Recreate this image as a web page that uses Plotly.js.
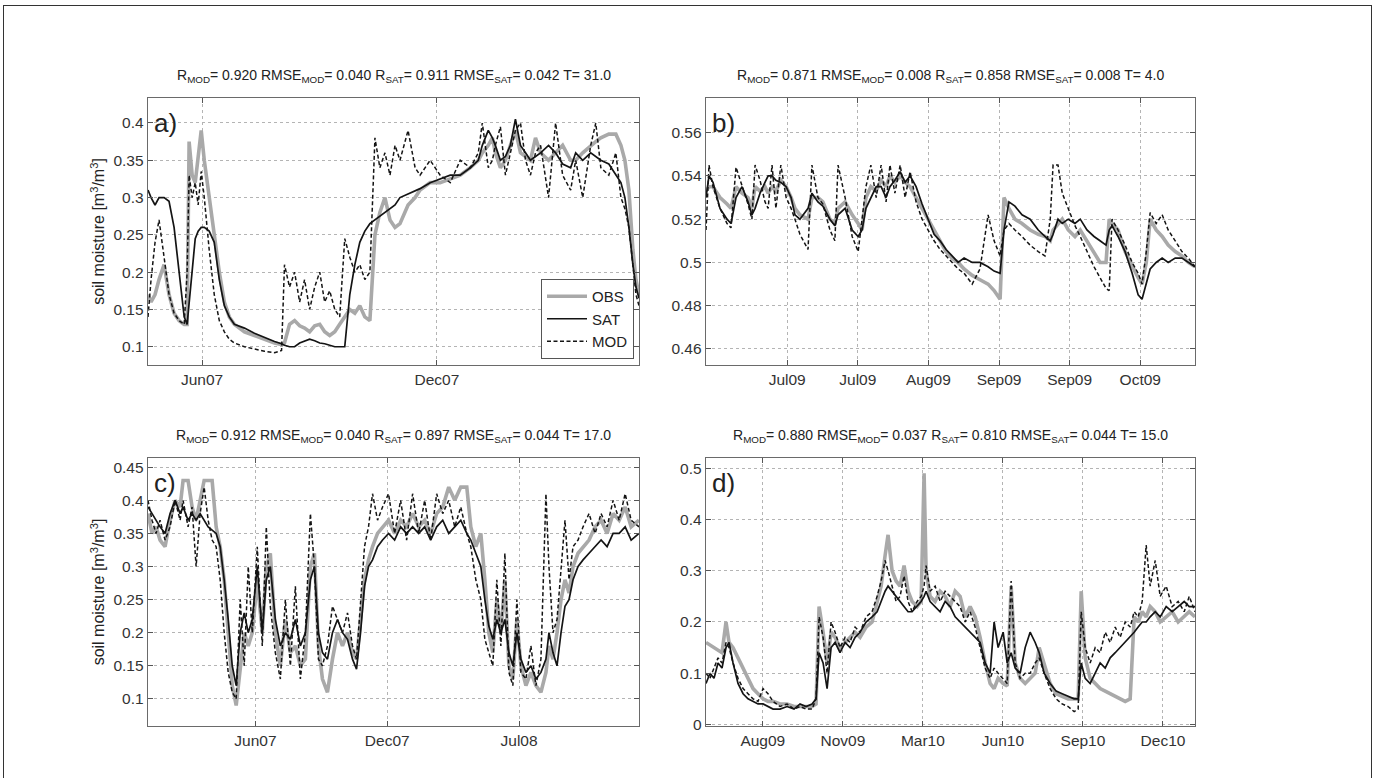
<!DOCTYPE html>
<html><head><meta charset="utf-8">
<script src="https://cdn.plot.ly/plotly-3.0.1.min.js"></script>
<style>
html,body{margin:0;padding:0;background:#fff;overflow:hidden}
#chart{position:absolute;left:0;top:0;width:1375px;height:778px}
#frame{position:absolute;left:3px;top:5px;width:1367px;height:800px;border:1.5px solid #333;pointer-events:none}
</style></head><body>
<div id="chart"></div><div id="frame"></div>
<script>
// ---------------- DATA ----------------
// Panel a: days since 2007-04-22
const startA = '2007-04-22';
const daysA = [0,2.6,6,9.4,13.7,17.9,22.2,26.5,30.8,33.3,35,37.6,40.2,42.7,45.3,47.9,52.1,56.4,60.7,65,69.2,73.5,82.1,90.6,99.1,107.7,113.7,116.2,120.5,124.8,129.1,133.3,137.6,141.9,146.2,150.4,154.7,159,163.2,167.5,171.8,176.1,180.3,184.6,188.9,193.2,197.4,201.7,206,210.3,214.5,221.4,227.4,231.6,240.2,248.7,257.3,265.8,274.4,281.2,284.6,289.7,293.2,295.7,300,304.3,308.5,312.8,317.1,321.4,325.6,329.9,334.2,341,347,353,359.8,364.1,370.1,376.9,381.2,385.5,392.3,398.3,402.6,406,409.4,412.8,415.4,418];
const obsA = [.17,.16,.17,.19,.21,.17,.145,.135,.13,.13,.375,.33,.32,.36,.39,.35,.30,.25,.20,.16,.14,.13,.12,.115,.11,.105,.103,.105,.13,.135,.128,.125,.12,.128,.13,.12,.115,.12,.13,.14,.15,.145,.155,.14,.135,.25,.28,.30,.27,.26,.265,.29,.30,.31,.32,.32,.325,.33,.34,.35,.36,.37,.38,.36,.34,.35,.37,.39,.36,.355,.35,.38,.36,.35,.36,.37,.35,.35,.36,.37,.375,.38,.385,.385,.37,.35,.31,.23,.19,.17];
const satA = [.31,.30,.29,.30,.30,.295,.26,.20,.14,.13,.16,.21,.245,.255,.26,.26,.255,.24,.19,.155,.14,.13,.125,.118,.112,.107,.104,.102,.10,.10,.105,.108,.11,.108,.105,.104,.102,.10,.10,.10,.17,.21,.24,.255,.265,.27,.275,.28,.285,.29,.30,.305,.31,.312,.32,.325,.33,.33,.34,.35,.37,.39,.38,.37,.35,.355,.37,.405,.37,.36,.35,.355,.36,.37,.36,.345,.34,.36,.35,.36,.355,.35,.345,.33,.32,.30,.26,.21,.18,.165];
const modA = [.14,.19,.24,.27,.22,.17,.145,.135,.13,.20,.33,.30,.32,.29,.335,.30,.23,.17,.135,.12,.11,.105,.10,.097,.094,.092,.095,.21,.18,.20,.16,.19,.15,.18,.20,.16,.175,.15,.14,.245,.22,.20,.21,.19,.20,.38,.34,.36,.33,.37,.35,.39,.34,.33,.35,.33,.32,.35,.34,.36,.40,.34,.35,.37,.395,.33,.36,.39,.40,.35,.33,.36,.37,.30,.40,.33,.31,.35,.30,.37,.40,.34,.33,.36,.30,.285,.26,.21,.17,.155];

// Panel b: days since 2009-06-13
const startB = '2009-06-13';
const daysB = [0,0.85,1.98,3.97,5.95,7.08,8.5,10.2,11.9,13,13.9,15.3,16.7,17.6,18.7,19.8,21.2,22.7,24.1,25.2,26.6,28.9,30,31.7,33.1,35.1,36.5,37.4,39.4,41.4,43.1,44.2,45.3,46.7,48.2,49.6,51,52.1,53.5,55,56.4,57.8,59.5,61.2,62.9,64.6,66.3,68,69.7,71.4,73.1,75.4,77.6,79.9,81.6,83.3,84.4,85.8,87.5,89.5,91.8,94.1,96,97.5,98.3,99.7,100.9,102.6,104.5,106,107.9,109.9,111.6,113.3,114.2,115,116.7,118.7,120.7,122.4,123.5,124.7,125.8,127.5,129.2,130.9,132.9,134.8,136.6,138.5];
const obsB = [.533,.535,.535,.530,.527,.525,.535,.532,.530,.525,.535,.533,.535,.532,.535,.533,.538,.535,.530,.525,.522,.520,.530,.530,.528,.520,.518,.525,.528,.522,.518,.515,.530,.535,.533,.538,.535,.540,.537,.540,.537,.535,.530,.525,.520,.515,.510,.505,.502,.500,.497,.494,.492,.490,.487,.483,.530,.525,.520,.518,.515,.513,.512,.510,.515,.518,.520,.515,.512,.515,.510,.505,.500,.500,.520,.518,.515,.505,.498,.493,.490,.500,.520,.515,.512,.508,.505,.503,.500,.498];
const satB = [.530,.540,.537,.525,.520,.518,.530,.535,.528,.522,.525,.532,.537,.540,.540,.538,.537,.535,.530,.522,.520,.525,.532,.528,.526,.520,.517,.522,.525,.515,.512,.515,.525,.530,.535,.535,.530,.535,.538,.542,.537,.540,.535,.527,.520,.513,.510,.506,.503,.500,.502,.500,.500,.498,.496,.495,.515,.528,.526,.522,.520,.515,.512,.510,.513,.520,.518,.520,.518,.520,.515,.512,.510,.508,.515,.517,.512,.505,.495,.485,.483,.490,.497,.500,.502,.500,.502,.502,.500,.498];
const modB = [.515,.545,.535,.525,.518,.516,.544,.535,.527,.520,.545,.538,.528,.525,.545,.525,.545,.530,.525,.520,.513,.506,.545,.530,.527,.515,.510,.545,.530,.512,.505,.520,.535,.545,.530,.545,.528,.545,.532,.545,.530,.542,.528,.520,.515,.510,.506,.503,.500,.497,.495,.490,.497,.522,.510,.503,.515,.518,.515,.512,.508,.505,.503,.520,.545,.545,.532,.525,.517,.512,.505,.498,.493,.488,.487,.520,.515,.508,.500,.495,.490,.505,.523,.518,.522,.515,.510,.505,.502,.498];

// Panel c: days since 2006-12-26
const startC = '2006-12-26';
const daysC = [0,6.1,12.2,18.3,25.9,33.5,41.1,48.7,53.2,60.8,66.9,73,79.1,85.2,91.3,97.3,103.4,109.5,115.6,121.7,127.8,133.8,139.9,146,152.1,158.2,165.8,173.4,179.5,185.6,193.2,200.8,208.4,216,223.6,231.2,238.8,246.4,252.5,258.6,264.7,272.3,279.9,287.5,295.1,302.7,310.3,316.4,322.5,328.5,334.6,340.7,348.3,355.9,365,374.2,383.3,392.4,401.5,410.7,419.8,428.9,438,447.2,456.3,465.4,474.6,483.7,489.8,497.4,505,511.1,517.1,523.2,529.3,535.4,541.5,547.6,553.6,559.7,565.8,573.4,581,588.6,596.2,603.8,608.4,614.5,620.6,626.7,632.7,638.8,644.9,652.5,660.1,669.2,678.4,687.5,696.6,705.7,714.9,724,733.1,745];
const obsC = [.38,.35,.36,.34,.33,.37,.40,.39,.43,.43,.39,.37,.40,.43,.43,.43,.36,.33,.28,.20,.12,.09,.14,.20,.18,.20,.28,.20,.30,.32,.20,.15,.22,.17,.18,.15,.16,.30,.32,.18,.13,.11,.16,.20,.18,.20,.17,.16,.22,.28,.31,.33,.35,.36,.37,.35,.37,.36,.38,.36,.37,.35,.38,.39,.42,.40,.42,.42,.36,.33,.35,.28,.20,.17,.25,.20,.28,.15,.13,.22,.15,.12,.14,.12,.11,.14,.18,.16,.20,.25,.28,.26,.30,.32,.33,.34,.36,.37,.35,.38,.37,.39,.36,.37];
const satC = [.39,.38,.37,.36,.35,.38,.40,.38,.39,.37,.38,.37,.38,.37,.36,.355,.35,.33,.28,.22,.15,.12,.20,.23,.20,.22,.30,.20,.28,.30,.22,.18,.20,.19,.22,.18,.20,.28,.30,.20,.17,.16,.20,.22,.20,.19,.16,.145,.20,.27,.30,.31,.33,.34,.35,.34,.36,.35,.36,.35,.36,.34,.36,.37,.35,.36,.37,.35,.34,.32,.30,.25,.21,.19,.22,.20,.22,.17,.15,.20,.16,.14,.15,.13,.14,.16,.20,.17,.15,.20,.24,.25,.28,.30,.31,.32,.33,.34,.33,.35,.35,.36,.34,.35];
const modC = [.40,.37,.35,.37,.34,.36,.40,.37,.40,.36,.39,.30,.38,.42,.37,.34,.33,.28,.20,.14,.11,.10,.25,.15,.30,.20,.33,.18,.36,.24,.17,.13,.25,.15,.27,.13,.20,.38,.30,.16,.15,.18,.24,.22,.20,.23,.18,.16,.25,.33,.36,.41,.37,.39,.41,.35,.40,.34,.41,.35,.40,.34,.41,.38,.40,.36,.39,.35,.33,.28,.25,.19,.17,.15,.28,.18,.32,.14,.12,.25,.14,.13,.18,.12,.16,.41,.30,.20,.22,.30,.37,.28,.33,.34,.36,.38,.35,.38,.36,.40,.37,.41,.37,.36];

// Panel d: days since 2009-06-05
const startD = '2009-06-05';
const daysD = [0,5,10,15,20,25,28.8,33.8,40,46.3,52.5,58.8,65,71.3,77.5,83.8,92.5,101.3,110,117.5,125,132.5,137.5,141.3,146.3,151.3,156.3,161.3,167.5,173.8,180,186.3,192.5,200,207.5,213.8,218.8,223.8,227.5,232.5,237.5,242.5,247.5,252.5,257.5,263.8,268.8,272.5,275,280,286.3,292.5,298.8,305,311.3,317.5,323.8,330,336.3,342.5,348.8,355,360,365,371.3,376.3,381.3,386.3,392.5,398.8,405,411.3,416.3,422.5,430,437.5,445,452.5,460,465,468.8,473.8,480,486.3,492.5,498.8,505,511.3,517.5,523.8,530,535,540,545,550,555,561.3,567.5,575,582.5,590,597.5,603.8,611];
const obsD = [.16,.155,.15,.145,.14,.20,.16,.15,.13,.11,.09,.07,.06,.05,.045,.045,.04,.04,.035,.035,.035,.035,.04,.23,.18,.12,.18,.17,.15,.16,.17,.18,.17,.19,.20,.24,.27,.33,.37,.30,.28,.27,.31,.26,.24,.23,.24,.49,.30,.25,.24,.26,.25,.23,.26,.25,.21,.23,.21,.17,.12,.08,.07,.09,.08,.075,.27,.12,.09,.08,.09,.10,.15,.12,.08,.06,.055,.05,.05,.05,.26,.13,.09,.08,.07,.065,.06,.055,.05,.045,.05,.21,.20,.22,.21,.23,.22,.20,.21,.22,.20,.21,.22,.21];
const satD = [.08,.10,.09,.12,.11,.15,.16,.12,.08,.06,.05,.045,.04,.04,.035,.03,.03,.035,.03,.04,.035,.04,.05,.14,.12,.07,.15,.16,.14,.16,.15,.17,.18,.20,.21,.22,.24,.26,.27,.26,.25,.24,.23,.22,.22,.23,.24,.25,.26,.24,.23,.22,.24,.23,.21,.20,.19,.18,.17,.16,.12,.10,.20,.15,.18,.12,.14,.11,.10,.15,.18,.16,.14,.10,.08,.065,.06,.055,.05,.05,.12,.09,.08,.10,.12,.11,.13,.14,.15,.16,.17,.18,.19,.20,.20,.21,.22,.21,.23,.22,.23,.24,.23,.23];
const modD = [.10,.09,.11,.13,.12,.16,.15,.12,.09,.07,.06,.05,.045,.07,.06,.045,.035,.04,.03,.035,.03,.03,.05,.21,.17,.10,.20,.18,.15,.17,.16,.19,.18,.21,.22,.25,.28,.32,.30,.27,.24,.25,.29,.24,.22,.24,.25,.27,.31,.26,.27,.24,.26,.25,.24,.23,.20,.22,.19,.15,.11,.09,.11,.10,.09,.08,.28,.12,.09,.10,.10,.12,.13,.10,.07,.05,.04,.035,.025,.03,.22,.15,.12,.15,.14,.18,.16,.19,.17,.20,.19,.22,.21,.24,.35,.27,.32,.25,.27,.23,.24,.22,.25,.22];

// Tick dates and labels
const ticksA = ['2007-06-07','2007-12-24'];
const labelsA = ['Jun07','Dec07'];
const ticksB = ['2009-07-06','2009-07-26','2009-08-15','2009-09-04','2009-09-24','2009-10-14'];
const labelsB = ['Jul09','Jul09','Aug09','Sep09','Sep09','Oct09'];
const ticksC = ['2007-06-07','2007-12-24','2008-07-11'];
const labelsC = ['Jun07','Dec07','Jul08'];
const ticksD = ['2009-08-15','2009-11-23','2010-03-03','2010-06-11','2010-09-19','2010-12-28'];
const labelsD = ['Aug09','Nov09','Mar10','Jun10','Sep10','Dec10'];

const yticksA = [0.1,0.15,0.2,0.25,0.3,0.35,0.4];
const yticksB = [0.46,0.48,0.5,0.52,0.54,0.56];
const yticksC = [0.1,0.15,0.2,0.25,0.3,0.35,0.4,0.45];
const yticksD = [0,0.1,0.2,0.3,0.4,0.5];
const yrangeA = [0.0755,0.4335];
const yrangeB = [0.4526,0.576];
const yrangeC = [0.059,0.464];
const yrangeD = [-0.003,0.52];

// Statistics in the titles
const rMod = [0.920,0.871,0.912,0.880];
const rmseMod = [0.040,0.008,0.040,0.037];
const rSat = [0.911,0.858,0.897,0.810];
const rmseSat = [0.042,0.008,0.044,0.044];
const tVal = [31.0,4.0,17.0,15.0];
const panelLabels = ['a)','b)','c)','d)'];

// ---------------- BUILD ----------------
const FONT = '"Liberation Sans", Arial, Helvetica, sans-serif';
const W = 1375, H = 778;
const colPx = [[148,639],[706,1195]];
const rowPx = [[98,365],[458,726]];

function toDates(start, days){
  const t0 = Date.parse(start + 'T00:00:00Z');
  return days.map(d => new Date(t0 + d*86400000).toISOString().slice(0,16).replace('T',' '));
}

const panels = [
  {start:startA, days:daysA, obs:obsA, sat:satA, mod:modA, tv:ticksA, tt:labelsA, yv:yticksA, yr:yrangeA, col:0, row:0, ytitle:true},
  {start:startB, days:daysB, obs:obsB, sat:satB, mod:modB, tv:ticksB, tt:labelsB, yv:yticksB, yr:yrangeB, col:1, row:0, ytitle:false},
  {start:startC, days:daysC, obs:obsC, sat:satC, mod:modC, tv:ticksC, tt:labelsC, yv:yticksC, yr:yrangeC, col:0, row:1, ytitle:true},
  {start:startD, days:daysD, obs:obsD, sat:satD, mod:modD, tv:ticksD, tt:labelsD, yv:yticksD, yr:yrangeD, col:1, row:1, ytitle:false}
];

const traces = [];
const layout = {
  width: W, height: H,
  margin: {l:0, r:0, t:0, b:0},
  paper_bgcolor: 'rgba(0,0,0,0)', plot_bgcolor: '#fff',
  showlegend: true,
  annotations: [],
  font: {family: FONT, color: '#222'}
};

panels.forEach((p, i) => {
  const n = i + 1;
  const xa = n === 1 ? 'x' : 'x' + n;
  const ya = n === 1 ? 'y' : 'y' + n;
  const xd = [colPx[p.col][0]/W, colPx[p.col][1]/W];
  const yd = [1 - rowPx[p.row][1]/H, 1 - rowPx[p.row][0]/H];
  const x = toDates(p.start, p.days);
  const common = {x: x, xaxis: xa, yaxis: ya, mode: 'lines', hoverinfo: 'skip'};
  traces.push(Object.assign({}, common, {y: p.obs, name: 'OBS', showlegend: i === 0,
    line: {color: '#a9a9a9', width: 3.6}}));
  traces.push(Object.assign({}, common, {y: p.sat, name: 'SAT', showlegend: i === 0,
    line: {color: '#141414', width: 1.7}}));
  traces.push(Object.assign({}, common, {y: p.mod, name: 'MOD', showlegend: i === 0,
    line: {color: '#141414', width: 1.5, dash: '4px,2.5px'}}));

  const axBase = {
    ticks: 'inside', ticklen: 5, tickwidth: 1, tickcolor: '#555',
    showline: true, linecolor: '#6a6a6a', linewidth: 1.3, mirror: 'ticks',
    showgrid: true, gridcolor: '#b4b4b4', gridwidth: 1, griddash: 'dot',
    zeroline: false, fixedrange: true,
    tickfont: {family: FONT, size: 15.5, color: '#333'}
  };
  layout['xaxis' + (n === 1 ? '' : n)] = Object.assign({}, axBase, {
    domain: xd, anchor: ya, type: 'date',
    range: [x[0], x[x.length - 1]],
    tickmode: 'array', tickvals: p.tv, ticktext: p.tt
  });
  const yax = Object.assign({}, axBase, {
    domain: yd, anchor: xa, range: p.yr,
    tickmode: 'array', tickvals: p.yv, ticktext: p.yv.map(v => String(v))
  });
  if (p.ytitle) {
    yax.title = {text: 'soil moisture [m<sup>3</sup>/m<sup>3</sup>]', font: {family: FONT, size: 16, color: '#222'}, standoff: 4};
  }
  layout['yaxis' + (n === 1 ? '' : n)] = yax;

  const title = 'R<sub>MOD</sub>= ' + rMod[i].toFixed(3) + ' RMSE<sub>MOD</sub>= ' + rmseMod[i].toFixed(3) +
    ' R<sub>SAT</sub>= ' + rSat[i].toFixed(3) + ' RMSE<sub>SAT</sub>= ' + rmseSat[i].toFixed(3) + ' T= ' + tVal[i].toFixed(1);
  layout.annotations.push({
    text: title, xref: 'paper', yref: 'paper',
    x: (xd[0] + xd[1]) / 2, y: yd[1] + 22/H, xanchor: 'center', yanchor: 'middle',
    showarrow: false, font: {family: FONT, size: 14, color: '#222'}
  });
  layout.annotations.push({
    text: panelLabels[i], xref: xa + ' domain', yref: ya + ' domain',
    x: 0.008, y: 1 - 25/267, xanchor: 'left', yanchor: 'middle',
    showarrow: false, font: {family: FONT, size: 26, color: '#222'}
  });
});

layout.legend = {
  x: (colPx[0][1] - 5)/W, y: 1 - (rowPx[0][1] - 6)/H, xanchor: 'right', yanchor: 'bottom',
  bgcolor: '#fff', bordercolor: '#555', borderwidth: 1,
  font: {family: FONT, size: 15, color: '#222'}, tracegroupgap: 0, itemwidth: 40
};

Plotly.newPlot('chart', traces, layout, {staticPlot: true, displayModeBar: false});
</script>
</body></html>
